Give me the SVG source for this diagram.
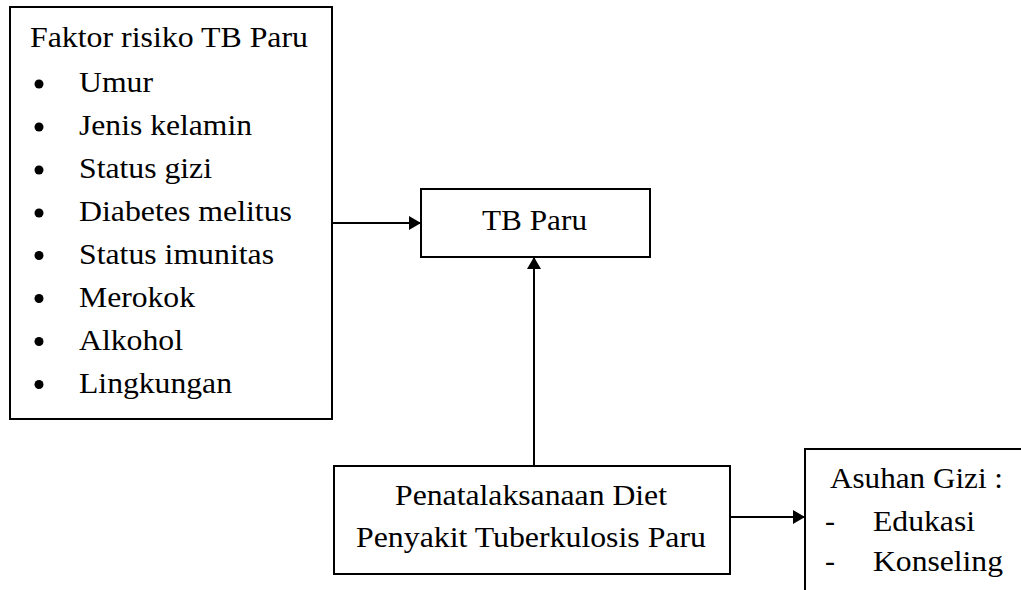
<svg xmlns="http://www.w3.org/2000/svg" width="1021" height="590" viewBox="0 0 1021 590">
<style>
.box{fill:#fff;stroke:#000;stroke-width:2}
.ln{stroke:#000;stroke-width:2;fill:none}
text{font-family:"Times New Roman","Liberation Serif",Tinos,"DejaVu Serif",serif;font-size:30px;fill:#000}
</style>
<defs>
<marker id="ah" markerWidth="12" markerHeight="14" refX="12" refY="7" orient="auto" markerUnits="userSpaceOnUse">
<path d="M0,0 L12,7 L0,14 Z" fill="#000"/>
</marker>
</defs>
<rect width="1021" height="590" fill="#fff"/>
<g id="faktor">
<rect class="box" x="10" y="7" width="322" height="412"/>
<text x="30" y="47" textLength="278" lengthAdjust="spacingAndGlyphs">Faktor risiko TB Paru</text>
<g fill="#000">
<circle cx="39" cy="84" r="4.5"/>
<circle cx="39" cy="127" r="4.5"/>
<circle cx="39" cy="170" r="4.5"/>
<circle cx="39" cy="213" r="4.5"/>
<circle cx="39" cy="255.5" r="4.5"/>
<circle cx="39" cy="298.5" r="4.5"/>
<circle cx="39" cy="341.5" r="4.5"/>
<circle cx="39" cy="384.5" r="4.5"/>
</g>
<text x="79" y="92" textLength="74" lengthAdjust="spacingAndGlyphs">Umur</text>
<text x="79" y="135" textLength="173" lengthAdjust="spacingAndGlyphs">Jenis kelamin</text>
<text x="79" y="178" textLength="133" lengthAdjust="spacingAndGlyphs">Status gizi</text>
<text x="79" y="221" textLength="213" lengthAdjust="spacingAndGlyphs">Diabetes melitus</text>
<text x="79" y="263.5" textLength="195" lengthAdjust="spacingAndGlyphs">Status imunitas</text>
<text x="79" y="306.5" textLength="116" lengthAdjust="spacingAndGlyphs">Merokok</text>
<text x="79" y="349.5" textLength="104" lengthAdjust="spacingAndGlyphs">Alkohol</text>
<text x="79" y="392.5" textLength="153" lengthAdjust="spacingAndGlyphs">Lingkungan</text>
</g>
<g id="tbparu">
<rect class="box" x="421" y="189" width="229" height="68"/>
<text x="482" y="230" textLength="105" lengthAdjust="spacingAndGlyphs">TB Paru</text>
</g>
<g id="diet">
<rect class="box" x="334" y="466" width="396" height="108"/>
<text x="395" y="505" textLength="272" lengthAdjust="spacingAndGlyphs">Penatalaksanaan Diet</text>
<text x="356" y="547" textLength="350" lengthAdjust="spacingAndGlyphs">Penyakit Tuberkulosis Paru</text>
</g>
<g id="asuhan">
<rect class="box" x="805" y="449" width="230" height="160"/>
<text x="830" y="488" textLength="173" lengthAdjust="spacingAndGlyphs">Asuhan Gizi :</text>
<text x="825" y="531">-</text>
<text x="873" y="531" textLength="102" lengthAdjust="spacingAndGlyphs">Edukasi</text>
<text x="825" y="571">-</text>
<text x="873" y="571" textLength="130" lengthAdjust="spacingAndGlyphs">Konseling</text>
</g>
<g id="connectors">
<line class="ln" x1="332" y1="223" x2="421" y2="223" marker-end="url(#ah)"/>
<line class="ln" x1="534" y1="466" x2="534" y2="257" marker-end="url(#ah)"/>
<line class="ln" x1="730" y1="517" x2="805" y2="517" marker-end="url(#ah)"/>
</g>
</svg>
